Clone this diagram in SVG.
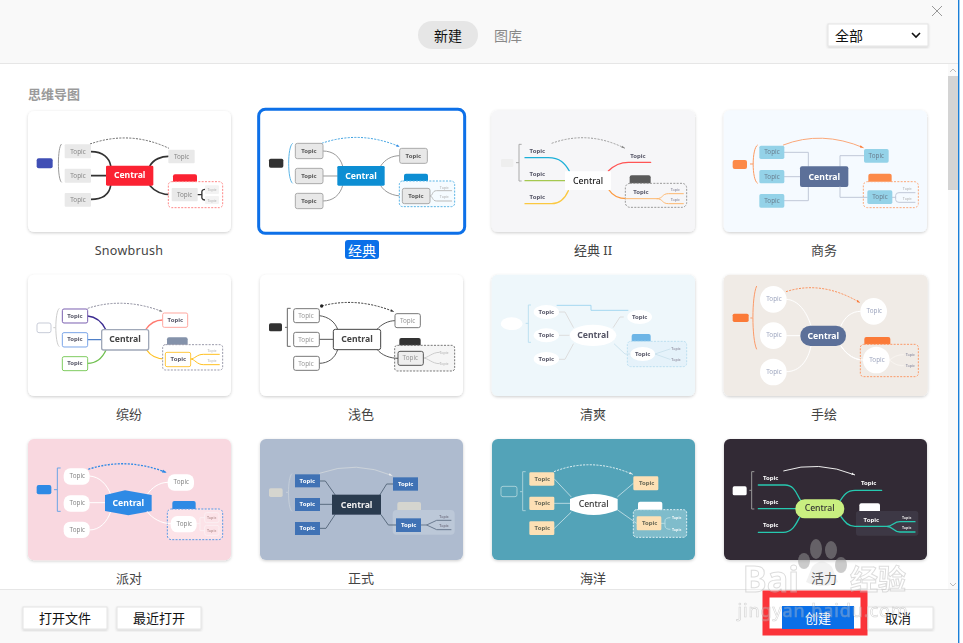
<svg xmlns="http://www.w3.org/2000/svg" width="963" height="643" viewBox="0 0 963 643">
<style>
text{font-family:"Noto Sans","Noto Sans CJK SC",sans-serif;text-anchor:middle;dominant-baseline:central}
.lab{font-size:13px;fill:#444}
.btn{font-size:14px;fill:#111}
.foot{font-size:13px;fill:#111}
.t{font-size:19px;fill:#888}
.tb{font-size:18px;font-weight:700;fill:#556}
.c{font-size:26px;font-weight:700}
.s{font-size:11px;fill:#aaa}
.sb{font-size:11px;font-weight:600;fill:#99a}
.l{fill:none;stroke-linecap:round;stroke-linejoin:round}
.d{fill:none;stroke-dasharray:6 4}
.b{fill:#fff;stroke:#e4e4e4;filter:url(#sh)}
.card{filter:url(#bl)}
</style>
<defs>
<filter id="bl" x="-3%" y="-3%" width="106%" height="106%"><feGaussianBlur stdDeviation=".8"/></filter>
<filter id="sh" x="-5%" y="-5%" width="110%" height="115%"><feDropShadow dx="0" dy="1" stdDeviation="1.2" flood-color="#000" flood-opacity=".16"/></filter>
<filter id="cs" x="-5%" y="-5%" width="110%" height="112%"><feDropShadow dx="0" dy="3" stdDeviation="4" flood-color="#000" flood-opacity=".2"/></filter>
<marker id="ag" markerWidth="5" markerHeight="5" refX="3.5" refY="2" orient="auto"><path d="M0 .8L3.5 2L0 3.2Z" fill="#888"/></marker>
<marker id="ab" markerWidth="5" markerHeight="5" refX="3.5" refY="2" orient="auto"><path d="M0 .8L3.5 2L0 3.2Z" fill="#2f8ae5"/></marker>
<marker id="ao" markerWidth="5" markerHeight="5" refX="3.5" refY="2" orient="auto"><path d="M0 .8L3.5 2L0 3.2Z" fill="#fb7a38"/></marker>
<marker id="aw" markerWidth="5" markerHeight="5" refX="3.5" refY="2" orient="auto"><path d="M0 .8L3.5 2L0 3.2Z" fill="#eee"/></marker>
<marker id="ak" markerWidth="5" markerHeight="5" refX="3.5" refY="2" orient="auto"><path d="M0 .8L3.5 2L0 3.2Z" fill="#333"/></marker>
</defs>
<rect width="963" height="643" fill="#fff"/>
<g id="header">
<rect width="958" height="63" fill="#f9f9f9"/>
<path d="M0 63.5H958" stroke="#e6e6e6"/>
<rect x="418" y="21" width="60" height="28" rx="14" fill="#e6e6e6"/>
<text x="448" y="35" class="btn">新建</text>
<text x="508" y="35" class="btn" style="fill:#888">图库</text>
<rect x="828" y="24" width="100" height="22" class="b"/>
<text x="849" y="35" class="btn">全部</text>
<path d="M912 33l4 4l4-4" fill="none" stroke="#111" stroke-width="1.6"/>
<path d="M932 6l10 10M942 6l-10 10" stroke="#999" fill="none"/>
</g>
<g id="scrollbar">
<rect x="948" y="64" width="10" height="525" fill="#fafafa"/>
<rect x="948" y="76" width="10" height="114" fill="#d4d4d4"/>
<path d="M950 72l3-3l3 3" fill="none" stroke="#bbb"/>
<path d="M950 583l3 3l3-3" fill="none" stroke="#bbb"/>
<rect x="958" y="0" width="1.4" height="643" fill="#1a7fd8"/>
</g>
<text x="54" y="94" style="font-size:13px;font-weight:700;fill:#9a9a9a">思维导图</text>

<g id="card-snowbrush" class="card" transform="translate(20 100) scale(.33333)">
<rect x="24" y="33" width="609" height="363" rx="18" fill="#fff" filter="url(#cs)"/>
<rect x="50" y="175" width="48" height="30" rx="6" fill="#3f4fb5"/>
<path d="M125 132C112 140 112 240 125 247" fill="none" stroke="#999" stroke-width="3"/>
<g class="connectors">
<path class="l" stroke="#333" stroke-width="5" d="M213 155C250 155 268 175 272 197M213 227H258M213 298C250 298 268 280 272 257M390 197C400 178 425 169 445 169M390 257C405 275 430 284 455 284"/>
<path class="d" stroke="#666" stroke-width="3" d="M210 132Q330 90 447 145"/>
</g>
<g fill="#e9e9e9"><rect x="134" y="133" width="79" height="42" rx="3"/><rect x="134" y="206" width="79" height="42" rx="3"/><rect x="134" y="279" width="79" height="41" rx="3"/><rect x="445" y="149" width="79" height="41" rx="3"/></g>
<text x="174" y="155" class="t">Topic</text><text x="174" y="227" class="t">Topic</text><text x="174" y="299" class="t">Topic</text><text x="485" y="170" class="t">Topic</text>
<rect x="258" y="197" width="142" height="60" rx="4" fill="#fb2030"/>
<text x="329" y="226" class="c" fill="#fff">Central</text>
<rect x="459" y="223" width="72" height="30" rx="6" fill="#fb2030"/>
<rect x="445" y="245" width="163" height="78" rx="10" class="d" stroke="#f88" stroke-width="3" style="fill:#fff"/>
<path class="l" stroke="#333" stroke-width="4" d="M533 284H545M555 268C540 268 548 284 545 284C548 284 540 300 555 300"/>
<rect x="455" y="264" width="78" height="40" rx="3" fill="#e9e9e9"/><text x="494" y="284" class="t">Topic</text>
<rect x="555" y="256" width="42" height="26" rx="3" fill="#f3f3f3"/><rect x="555" y="288" width="42" height="24" rx="3" fill="#f3f3f3"/>
<text x="576" y="269" class="s">Topic</text><text x="576" y="301" class="s">Topic</text>
</g>
<text x="129" y="250" class="lab" style="font-size:12.5px;letter-spacing:.3px">Snowbrush</text>

<g id="card-classic" class="card" transform="translate(20 100) scale(.33333)">
<rect x="716" y="28" width="618" height="372" rx="20" fill="#fff" stroke="#0a6fe8" stroke-width="9"/>
<rect x="747" y="176" width="43" height="27" rx="5" fill="#333"/>
<path d="M818 130C802 140 802 240 818 250" fill="none" stroke="#5ab4e5" stroke-width="3"/>
<g class="connectors">
<path class="l" stroke="#999" stroke-width="3" d="M909 153C940 153 960 170 968 198M909 228H952M909 303C940 303 960 285 968 257M1082 198C1095 178 1115 167 1139 167M1082 257C1095 278 1120 288 1147 288"/>
<path class="d" stroke="#3aa0e0" stroke-width="3" marker-end="url(#ab)" d="M905 130Q1020 90 1139 140"/>
</g>
<g fill="#e8e8e8" stroke="#aaa" stroke-width="3"><rect x="826" y="130" width="83" height="46" rx="6"/><rect x="826" y="205" width="83" height="46" rx="6"/><rect x="826" y="280" width="83" height="46" rx="6"/><rect x="1139" y="145" width="83" height="45" rx="6"/></g>
<text x="867" y="153" class="tb" style="fill:#555">Topic</text><text x="867" y="228" class="tb" style="fill:#555">Topic</text><text x="867" y="303" class="tb" style="fill:#555">Topic</text><text x="1180" y="167" class="tb" style="fill:#555">Topic</text>
<rect x="952" y="198" width="142" height="59" rx="4" fill="#0a8ed3"/>
<text x="1023" y="228" class="c" fill="#fff">Central</text>
<rect x="1152" y="221" width="72" height="30" rx="6" fill="#0a8ed3"/>
<rect x="1138" y="243" width="166" height="77" rx="10" class="d" stroke="#5ab4e5" stroke-width="3" style="fill:#f5fbff"/>
<path class="l" stroke="#bbb" stroke-width="3" d="M1230 288C1240 288 1235 272 1250 272H1295M1230 288C1240 288 1235 303 1250 303H1295"/>
<rect x="1147" y="265" width="83" height="46" rx="6" fill="#e8e8e8" stroke="#aaa" stroke-width="3"/>
<text x="1188" y="288" class="tb" style="fill:#555">Topic</text>
<text x="1273" y="263" class="s">Topic</text><text x="1273" y="290" class="s">Topic</text>
</g>
<rect x="345" y="240" width="34" height="19" rx="3" fill="#0a6fe8"/>
<text x="362" y="250" class="lab" style="fill:#fff;font-size:14px">经典</text>

<g id="card-classic2" class="card" transform="translate(485 100) scale(.33333)">
<rect x="20" y="31" width="610" height="365" rx="18" fill="#f6f6f8" filter="url(#cs)"/>
<rect x="48" y="177" width="37" height="24" rx="4" fill="#eee"/>
<path d="M110 133H102V243H110M102 188H93" fill="none" stroke="#aaa" stroke-width="3"/>
<g class="connectors">
<path class="l" stroke="#1eb0d8" stroke-width="4" d="M120 173H190C225 173 240 190 253 213"/>
<path class="l" stroke="#a5c850" stroke-width="4" d="M120 242H240"/>
<path class="l" stroke="#fbc840" stroke-width="4" d="M120 311H200C225 311 240 295 250 272"/>
<path class="l" stroke="#f55" stroke-width="4" d="M497 187H430C405 187 385 198 370 213"/>
<path class="l" stroke="#fc9a40" stroke-width="4" d="M372 270C385 290 405 296 425 296H510"/>
<path class="d" stroke="#999" stroke-width="3" marker-end="url(#ag)" d="M200 130Q310 90 420 145"/>
</g>
<rect x="240" y="214" width="138" height="56" rx="2" fill="#fff"/>
<text x="309" y="243" class="c" style="font-weight:500;fill:#222">Central</text>
<text x="157" y="153" class="tb">Topic</text><text x="157" y="222" class="tb">Topic</text><text x="157" y="291" class="tb">Topic</text><text x="459" y="168" class="tb">Topic</text>
<rect x="434" y="226" width="63" height="30" rx="6" fill="#5a5a5a"/>
<rect x="421" y="250" width="184" height="72" rx="14" class="d" stroke="#999" stroke-width="3" style="fill:#f6f6f8"/>
<text x="468" y="276" class="tb">Topic</text>
<path class="l" stroke="#fdb870" stroke-width="3" d="M421 296H515C535 296 530 281 550 281H595M515 296C535 296 530 311 550 311H595"/>
<text x="571" y="269" class="sb">Topic</text><text x="571" y="299" class="sb">Topic</text>
</g>
<text x="593" y="250" class="lab">经典 II</text>

<g id="card-business" class="card" transform="translate(485 100) scale(.33333)">
<rect x="716" y="31" width="610" height="365" rx="18" fill="#f5faff" filter="url(#cs)"/>
<rect x="743" y="180" width="43" height="27" rx="6" fill="#fc8a4a"/>
<path d="M818 135C800 145 800 240 818 250M805 192H795" fill="none" stroke="#fc9a60" stroke-width="3"/>
<g class="connectors">
<path class="l" stroke="#c0c8d8" stroke-width="3" d="M898 157H970V199M898 230H945M898 302H970V261M1065 199V167H1137"/>
<path class="l" stroke="#fba878" stroke-width="3" marker-end="url(#ao)" d="M895 135Q1010 90 1135 143"/>
</g>
<g fill="#94d2e8"><rect x="823" y="137" width="75" height="40" rx="5"/><rect x="823" y="210" width="75" height="40" rx="5"/><rect x="823" y="282" width="75" height="41" rx="5"/><rect x="1137" y="147" width="74" height="41" rx="5"/></g>
<text x="861" y="156" class="t" style="fill:#6a7f90">Topic</text><text x="861" y="230" class="t" style="fill:#6a7f90">Topic</text><text x="861" y="302" class="t" style="fill:#6a7f90">Topic</text><text x="1174" y="167" class="t" style="fill:#6a7f90">Topic</text>
<rect x="945" y="199" width="145" height="62" rx="6" fill="#5b7099"/>
<text x="1018" y="230" class="c" fill="#fff">Central</text>
<rect x="1150" y="221" width="70" height="30" rx="6" fill="#fc8a4a"/>
<rect x="1135" y="245" width="165" height="78" rx="12" class="d" stroke="#fba878" stroke-width="3" style="fill:#f5faff"/>
<path class="l" stroke="#c0c8d8" stroke-width="3" d="M1065 261V292H1147M1222 292H1232M1290 278H1242Q1232 278 1232 286V299Q1232 307 1242 307H1290"/>
<rect x="1147" y="271" width="75" height="41" rx="5" fill="#94d2e8"/><text x="1185" y="291" class="t" style="fill:#6a7f90">Topic</text>
<text x="1267" y="266" class="s">Topic</text><text x="1267" y="296" class="s">Topic</text>
</g>
<text x="824" y="250" class="lab">商务</text>

<g id="card-colorful" class="card" transform="translate(20 270) scale(.33333)">
<rect x="24" y="14" width="609" height="364" rx="18" fill="#fff" filter="url(#cs)"/>
<rect x="51" y="159" width="42" height="29" rx="6" fill="#fff" stroke="#c8ccd8" stroke-width="3"/>
<path d="M118 115C104 125 104 220 118 230M107 173H100" fill="none" stroke="#ccc" stroke-width="3"/>
<g class="connectors">
<path class="l" stroke="#3a2a90" stroke-width="4" d="M203 138C230 140 248 160 258 180"/>
<path class="l" stroke="#5080c8" stroke-width="4" d="M203 209H245"/>
<path class="l" stroke="#70c050" stroke-width="4" d="M203 280C230 280 248 262 258 240"/>
<path class="l" stroke="#ff7a70" stroke-width="4" d="M376 180C388 162 408 150 428 150"/>
<path class="l" stroke="#ffc020" stroke-width="4" d="M380 240C392 258 412 267 436 267"/>
<path class="d" stroke="#889" stroke-width="3" marker-end="url(#ag)" d="M203 115Q310 80 428 125"/>
</g>
<g fill="#fff" stroke-width="3"><rect x="127" y="117" width="76" height="42" rx="5" stroke="#7a5fb0"/><rect x="127" y="188" width="76" height="43" rx="5" stroke="#7aa5e8"/><rect x="127" y="260" width="76" height="42" rx="5" stroke="#80cc60"/><rect x="428" y="129" width="75" height="43" rx="5" stroke="#ffa8a0"/></g>
<text x="165" y="138" class="tb">Topic</text><text x="165" y="208" class="tb">Topic</text><text x="165" y="280" class="tb">Topic</text><text x="466" y="150" class="tb">Topic</text>
<rect x="245" y="179" width="141" height="61" rx="6" fill="#fff" stroke="#a0a8b8" stroke-width="4"/>
<text x="315" y="208" class="c" style="fill:#444">Central</text>
<rect x="441" y="202" width="62" height="28" rx="6" fill="#8492aa"/>
<rect x="428" y="224" width="180" height="76" rx="8" class="d" stroke="#99a" stroke-width="3" style="fill:#fff"/>
<path class="l" stroke="#ffc020" stroke-width="3" d="M512 267C525 267 530 253 550 253H598M512 267C525 267 530 284 550 284H598"/>
<rect x="436" y="247" width="76" height="43" rx="5" fill="#fff" stroke="#ffc840" stroke-width="3"/><text x="475" y="267" class="tb">Topic</text>
<text x="576" y="242" class="s">Topic</text><text x="576" y="272" class="s">Topic</text>
</g>
<text x="129" y="414" class="lab">缤纷</text>

<g id="card-light" class="card" transform="translate(20 270) scale(.33333)">
<rect x="720" y="14" width="609" height="364" rx="18" fill="#fff" filter="url(#cs)"/>
<rect x="747" y="160" width="39" height="24" rx="5" fill="#333"/>
<path d="M812 115H802V229H812M802 172H795" fill="none" stroke="#666" stroke-width="3"/>
<g class="connectors">
<path class="l" stroke="#555" stroke-width="3" d="M898 137C925 140 945 155 953 178M898 208H940M898 280C925 280 945 265 953 239M1071 178C1085 162 1105 152 1125 152"/>
<path class="d" stroke="#333" stroke-width="3" marker-end="url(#ak)" d="M905 108Q1010 80 1122 125"/>
</g>
<circle cx="905" cy="108" r="5" fill="#222"/>
<g fill="#fff" stroke="#777" stroke-width="3"><rect x="821" y="116" width="77" height="42" rx="6"/><rect x="821" y="187" width="77" height="43" rx="6"/><rect x="821" y="259" width="77" height="42" rx="6"/><rect x="1125" y="131" width="76" height="42" rx="6"/></g>
<text x="858" y="136" class="t" style="fill:#999">Topic</text><text x="858" y="208" class="t" style="fill:#999">Topic</text><text x="858" y="280" class="t" style="fill:#999">Topic</text><text x="1163" y="151" class="t" style="fill:#999">Topic</text>
<rect x="940" y="178" width="142" height="61" rx="6" fill="#fff" stroke="#444" stroke-width="3"/>
<text x="1011" y="207" class="c" style="fill:#444">Central</text>
<rect x="1138" y="204" width="64" height="28" rx="6" fill="#333"/>
<rect x="1124" y="226" width="180" height="77" rx="8" class="d" stroke="#777" stroke-width="3" style="fill:#f5f5f5"/>
<path class="l" stroke="#555" stroke-width="3" d="M1072 239C1085 256 1110 265 1134 265"/>
<path class="l" stroke="#ccc" stroke-width="3" d="M1210 264C1225 264 1235 247 1258 247M1210 264C1225 264 1235 281 1258 281"/>
<rect x="1134" y="244" width="76" height="42" rx="6" fill="#eee" stroke="#555" stroke-width="3"/><text x="1171" y="264" class="t" style="fill:#999">Topic</text>
<text x="1272" y="248" class="s">Topic</text><text x="1272" y="281" class="s">Topic</text>
</g>
<text x="361" y="414" class="lab">浅色</text>

<g id="card-fresh" class="card" transform="translate(485 270) scale(.33333)">
<rect x="20" y="14" width="610" height="364" rx="18" fill="#eef7fb" filter="url(#cs)"/>
<ellipse cx="80" cy="161" rx="33" ry="19" fill="#fff"/>
<path d="M138 105H130V217H138M130 160H122" fill="none" stroke="#bde0f0" stroke-width="3"/>
<g class="connectors">
<path class="l" stroke="#ddd" stroke-width="3" d="M222 126H240L265 172M222 196H255M222 268H240L265 222M415 141H405L385 172"/>
<path fill="none" stroke="#a5d8f0" stroke-width="3" d="M215 106H318V121H430"/>
</g>
<g fill="#fff"><ellipse cx="184" cy="126" rx="38" ry="21"/><ellipse cx="184" cy="196" rx="38" ry="21"/><ellipse cx="184" cy="267" rx="38" ry="21"/><ellipse cx="464" cy="141" rx="37" ry="21"/></g>
<text x="184" y="126" class="tb">Topic</text><text x="184" y="195" class="tb">Topic</text><text x="184" y="267" class="tb">Topic</text><text x="464" y="141" class="tb">Topic</text>
<ellipse cx="324" cy="196" rx="70" ry="32" fill="#fff"/>
<text x="324" y="195" class="c" style="fill:#556">Central</text>
<rect x="440" y="192" width="57" height="28" rx="6" fill="#6db5e6"/>
<rect x="427" y="214" width="178" height="76" rx="10" class="d" stroke="#bcdff0" stroke-width="3" style="fill:#e5f2fa"/>
<path class="l" stroke="#cde3ee" stroke-width="3" d="M388 222L420 252H437M510 252L555 237M510 252L555 268"/>
<ellipse cx="473" cy="252" rx="37" ry="21" fill="#fff"/><text x="473" y="252" class="tb">Topic</text>
<text x="573" y="236" class="sb">Topic</text><text x="573" y="268" class="sb">Topic</text>
</g>
<text x="593" y="414" class="lab">清爽</text>

<g id="card-hand" class="card" transform="translate(485 270) scale(.33333)">
<rect x="716" y="14" width="612" height="364" rx="18" fill="#f0ebe6" filter="url(#cs)"/>
<rect x="743" y="131" width="48" height="25" rx="5" fill="#fb7a38"/>
<path d="M815 48C800 80 800 205 815 238M803 144H796" fill="none" stroke="#fb9a68" stroke-width="3"/>
<g class="connectors">
<path class="l" stroke="#fff" stroke-width="3" d="M905 88C940 90 965 125 978 167M905 197H946M905 305C945 305 970 270 978 228M1068 167C1080 140 1100 124 1126 124M1068 228C1085 255 1110 270 1134 270"/>
<path class="d" stroke="#fb8a50" stroke-width="3" marker-end="url(#ao)" d="M903 65Q1010 30 1125 98"/>
</g>
<g fill="#fff"><circle cx="865" cy="88" r="40"/><circle cx="865" cy="197" r="40"/><circle cx="865" cy="306" r="40"/><circle cx="1166" cy="124" r="40"/></g>
<text x="867" y="87" class="t" style="fill:#a0a8c0">Topic</text><text x="867" y="195" class="t" style="fill:#a0a8c0">Topic</text><text x="867" y="306" class="t" style="fill:#a0a8c0">Topic</text><text x="1168" y="123" class="t" style="fill:#a0a8c0">Topic</text>
<rect x="946" y="167" width="137" height="61" rx="30" fill="#5b7099"/>
<text x="1015" y="197" class="c" fill="#fff">Central</text>
<rect x="1138" y="201" width="78" height="28" rx="6" fill="#fb7a38"/>
<rect x="1126" y="223" width="174" height="97" rx="10" class="d" stroke="#fb9a68" stroke-width="3" style="fill:#f0ebe6"/>
<path class="l" stroke="#fff" stroke-width="3" d="M1068 228C1085 255 1110 270 1134 270"/>
<path class="l" stroke="#f8f4f0" stroke-width="3" d="M1214 270C1225 262 1235 254 1255 254M1214 270C1225 280 1235 287 1255 287"/>
<circle cx="1174" cy="270" r="40" fill="#fff"/><text x="1176" y="270" class="t" style="fill:#a0a8c0">Topic</text>
<text x="1276" y="254" class="sb">Topic</text><text x="1276" y="287" class="sb">Topic</text>
</g>
<text x="824" y="414" class="lab">手绘</text>

<g id="card-party" class="card" transform="translate(20 435) scale(.33333)">
<rect x="24" y="12" width="609" height="364" rx="18" fill="#f9d8e0" filter="url(#cs)"/>
<rect x="50" y="150" width="44" height="28" rx="6" fill="#2f8ae5"/>
<path d="M122 99H112V229H122M112 164H102" fill="none" stroke="#6aa5e5" stroke-width="3"/>
<g class="connectors">
<path class="l" stroke="#fff" stroke-width="3" d="M209 123C240 125 262 150 272 178M209 203H255M209 285C240 285 262 260 272 230M382 178C395 158 418 142 443 142"/>
<path class="d" stroke="#2f8ae5" stroke-width="4" marker-end="url(#ab)" d="M205 103Q320 65 440 113"/>
</g>
<g fill="#fff"><rect x="131" y="100" width="78" height="49" rx="20"/><rect x="131" y="181" width="78" height="49" rx="20"/><rect x="131" y="260" width="78" height="49" rx="20"/><rect x="443" y="118" width="79" height="49" rx="20"/></g>
<text x="172" y="122" class="t">Topic</text><text x="172" y="203" class="t">Topic</text><text x="172" y="284" class="t">Topic</text><text x="484" y="141" class="t">Topic</text>
<path d="M255 180L315 166L395 180V228L325 241L255 228Z" fill="#2f8ae5"/>
<text x="325" y="203" class="c" fill="#fff">Central</text>
<rect x="457" y="198" width="70" height="30" rx="6" fill="#2f8ae5"/>
<rect x="442" y="222" width="166" height="92" rx="12" class="d" stroke="#5a9ae5" stroke-width="3" style="fill:#fce3e8"/>
<path class="l" stroke="#fff" stroke-width="3" d="M382 230C395 250 425 266 452 266"/>
<path class="l" stroke="#fbeff2" stroke-width="3" d="M530 266H540V248H554M540 266V287H554"/>
<rect x="452" y="243" width="78" height="49" rx="20" fill="#fff"/><text x="493" y="266" class="t">Topic</text>
<rect x="554" y="233" width="43" height="30" rx="6" fill="#fce3e8" stroke="#fbeff2" stroke-width="3"/><rect x="554" y="271" width="43" height="30" rx="6" fill="#fce3e8" stroke="#fbeff2" stroke-width="3"/>
<text x="575" y="248" class="sb" style="fill:#b99">Topic</text><text x="575" y="287" class="sb" style="fill:#b99">Topic</text>
</g>
<text x="129" y="578" class="lab">派对</text>

<g id="card-formal" class="card" transform="translate(20 435) scale(.33333)">
<rect x="720" y="12" width="609" height="363" rx="18" fill="#aebbcf" filter="url(#cs)"/>
<rect x="747" y="160" width="41" height="26" rx="5" fill="#d5d5cf"/>
<path d="M816 116C802 126 802 220 816 229M805 172H798" fill="none" stroke="#c5ced9" stroke-width="3"/>
<g class="connectors">
<path class="l" stroke="#5a6b80" stroke-width="3" d="M900 138H916L945 179M900 208H936M900 280H918L945 239M1080 179L1100 147H1119"/>
<path fill="none" stroke="#ccd3da" stroke-width="3" marker-end="url(#aw)" d="M898 115Q1010 75 1117 122"/>
</g>
<g fill="#3f72b5"><rect x="825" y="118" width="75" height="39"/><rect x="825" y="189" width="75" height="39"/><rect x="825" y="261" width="75" height="39"/><rect x="1119" y="127" width="75" height="40"/></g>
<text x="862" y="138" class="tb" style="fill:#fff">Topic</text><text x="862" y="208" class="tb" style="fill:#fff">Topic</text><text x="862" y="280" class="tb" style="fill:#fff">Topic</text><text x="1157" y="147" class="tb" style="fill:#fff">Topic</text>
<rect x="936" y="179" width="147" height="60" fill="#2a3a50"/>
<text x="1010" y="209" class="c" fill="#eee">Central</text>
<rect x="1132" y="201" width="71" height="30" rx="6" fill="#d5d5cf"/>
<rect x="1118" y="225" width="186" height="74" rx="12" fill="#bcc8d8"/>
<path class="l" stroke="#5a6b80" stroke-width="3" d="M1083 239L1105 270H1128"/>
<path class="l" stroke="#6a7a90" stroke-width="3" d="M1203 270H1220L1250 256H1293M1220 270L1250 284H1293"/>
<rect x="1128" y="250" width="75" height="41" fill="#3f72b5"/><text x="1166" y="270" class="tb" style="fill:#fff">Topic</text>
<text x="1272" y="245" class="sb" style="fill:#778">Topic</text><text x="1272" y="272" class="sb" style="fill:#778">Topic</text>
</g>
<text x="361" y="578" class="lab">正式</text>

<g id="card-ocean" class="card" transform="translate(485 435) scale(.33333)">
<rect x="21" y="12" width="609" height="363" rx="18" fill="#53a3b8" filter="url(#cs)"/>
<rect x="48" y="154" width="48" height="31" rx="6" fill="none" stroke="#a5d0d8" stroke-width="3"/>
<path d="M122 110H113V227H122M113 170H105" fill="none" stroke="#a5d0d8" stroke-width="3"/>
<g class="connectors">
<path class="l" stroke="#b5d8e0" stroke-width="3" d="M208 132L258 185M208 205H255M208 280L258 232M398 185L445 145"/>
<path class="d" stroke="#e8f4f6" stroke-width="3" marker-end="url(#aw)" d="M207 110Q320 65 443 118"/>
</g>
<g fill="#fde0b5"><rect x="133" y="112" width="75" height="40" rx="4"/><rect x="133" y="185" width="75" height="40" rx="4"/><rect x="133" y="259" width="75" height="41" rx="4"/><rect x="445" y="124" width="75" height="42" rx="4"/></g>
<text x="172" y="132" class="tb" style="fill:#665">Topic</text><text x="172" y="204" class="tb" style="fill:#665">Topic</text><text x="172" y="278" class="tb" style="fill:#665">Topic</text><text x="485" y="144" class="tb" style="fill:#665">Topic</text>
<path d="M255 192Q326 162 398 192V225Q326 255 255 225Z" fill="#fff"/>
<text x="326" y="206" class="c" style="font-weight:500;fill:#333">Central</text>
<rect x="459" y="200" width="73" height="30" rx="6" fill="#fff"/>
<rect x="445" y="224" width="160" height="83" rx="10" class="d" stroke="#e0f0f4" stroke-width="3" style="fill:#7fbccb"/>
<path class="l" stroke="#b5d8e0" stroke-width="3" d="M398 225L455 265"/>
<path class="l" stroke="#b5dce4" stroke-width="3" d="M529 265H540V258Q540 248 555 248M540 265V272Q540 283 555 283"/>
<rect x="455" y="244" width="74" height="42" rx="4" fill="#fde0b5"/><text x="494" y="263" class="tb" style="fill:#665">Topic</text>
<text x="575" y="247" class="sb" style="fill:#fff">Topic</text><text x="575" y="283" class="sb" style="fill:#fff">Topic</text>
</g>
<text x="593" y="578" class="lab">海洋</text>

<g id="card-vivid" class="card" transform="translate(485 435) scale(.33333)">
<rect x="717" y="12" width="609" height="363" rx="18" fill="#312a36" filter="url(#cs)"/>
<rect x="743" y="154" width="42" height="27" rx="5" fill="#fff"/>
<path d="M808 110H800V222H808M800 166H793" fill="none" stroke="#999" stroke-width="3"/>
<rect x="1123" y="205" width="62" height="30" rx="6" fill="#fff"/>
<rect x="1113" y="228" width="187" height="74" rx="8" fill="#3e3844"/>
<g class="connectors">
<path class="l" stroke="#27c9b0" stroke-width="4" d="M820 150H900C930 150 935 180 948 198M820 221H932M820 292H895C925 292 935 262 945 245M1190 166H1110C1085 166 1075 182 1065 198M1068 245C1080 262 1090 274 1110 274H1205C1225 274 1225 260 1245 260H1290M1205 274C1225 274 1225 291 1245 291H1290"/>
<path fill="none" stroke="#eee" stroke-width="3" marker-end="url(#aw)" d="M895 108Q1000 75 1110 120"/>
</g>
<text x="857" y="129" class="tb" style="fill:#fff">Topic</text><text x="857" y="201" class="tb" style="fill:#fff">Topic</text><text x="857" y="270" class="tb" style="fill:#fff">Topic</text><text x="1151" y="144" class="tb" style="fill:#fff">Topic</text><text x="1159" y="255" class="tb" style="fill:#fff">Topic</text>
<rect x="931" y="193" width="147" height="57" rx="28" fill="#c9ef80"/>
<text x="1004" y="219" class="c" style="font-weight:500;fill:#333">Central</text>
<text x="1265" y="248" class="sb" style="fill:#eee">Topic</text><text x="1265" y="278" class="sb" style="fill:#eee">Topic</text>
</g>
<text x="824" y="578" class="lab">活力</text>

<g id="footer">
<rect y="589" width="958" height="54" fill="#f9f9f9"/>
<path d="M0 589.5H958" stroke="#e6e6e6"/>
<rect x="23" y="607" width="84" height="22" class="b"/><text x="65" y="618" class="foot">打开文件</text>
<rect x="117" y="607" width="84" height="22" class="b"/><text x="159" y="618" class="foot">最近打开</text>
<rect x="766" y="594" width="98" height="38" fill="#fff" stroke="#fb3339" stroke-width="7"/>
<rect x="782" y="606" width="72" height="23" fill="#0a6fe8"/>
<text x="818" y="618" class="foot" style="fill:#fff">创建</text>
<rect x="868" y="607" width="65" height="22" class="b"/><text x="898" y="618" class="foot">取消</text>
</g>

<g id="watermark" opacity=".5">
<g fill="#999"><ellipse cx="816" cy="549" rx="6" ry="10"/><ellipse cx="831" cy="550" rx="6" ry="9"/><ellipse cx="804" cy="561" rx="6" ry="8"/><ellipse cx="841" cy="565" rx="6" ry="8"/></g>
<path d="M812 567Q822 556 832 567L838 582Q822 590 806 582Z" fill="#bbb" fill-opacity=".4"/>
<text x="771" y="578" style="font-size:36px;font-weight:700;fill:#fff;fill-opacity:.6;stroke:#bbb;stroke-width:1">Bai</text>
<text x="878" y="579" style="font-size:28px;font-weight:700;fill:#fff;fill-opacity:.6;stroke:#bbb;stroke-width:1">经验</text>
<text x="823" y="610" style="font-size:18px;fill:#fff;fill-opacity:.5;stroke:#aaa;stroke-width:.6;letter-spacing:.9px">jingyan.baidu.com</text>
</g>
</svg>
